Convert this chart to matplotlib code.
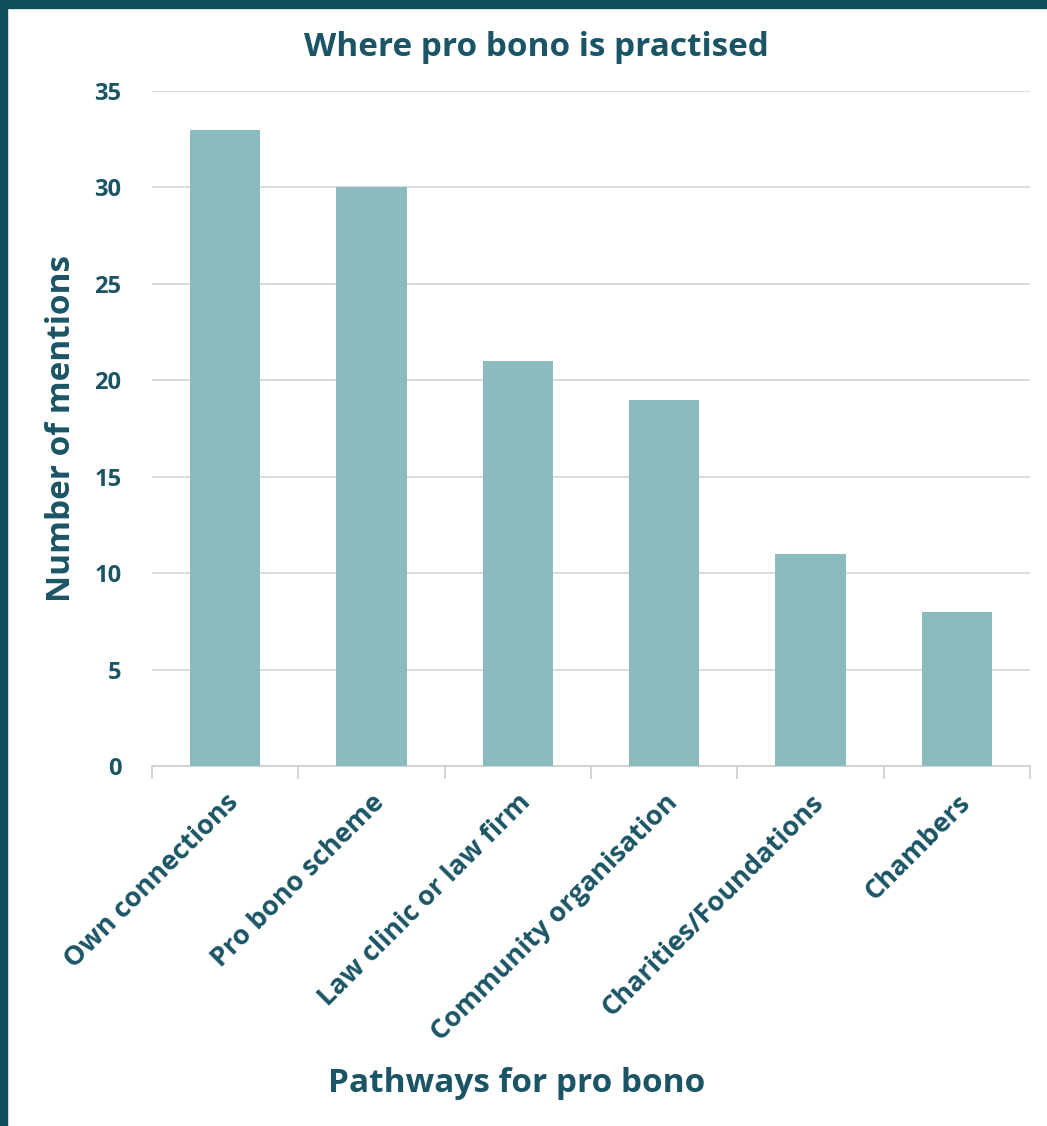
import matplotlib
matplotlib.use("Agg")
import matplotlib.pyplot as plt
import numpy as np

categories = ["Own connections", "Pro bono scheme", "Law clinic or law firm",
              "Community organisation", "Charities/Foundations", "Chambers"]
values = [33, 30, 21, 19, 11, 8]
yticks = [0, 5, 10, 15, 20, 25, 30, 35]

TEXT = "#1B5565"
BAR = "#8BBBBF"
BORDER = "#0E4F5C"

plt.rcParams['font.family'] = ['Open Sans', 'DejaVu Sans']

fig = plt.figure(figsize=(10.47, 11.26), dpi=100)
fig.patch.set_facecolor("white")
# dark frame (left + top)
fig.patches.append(plt.Rectangle((0, 0), 7/1047, 1, transform=fig.transFigure, color=BORDER, zorder=0))
fig.patches.append(plt.Rectangle((0, 1-8/1126), 1, 8/1126, transform=fig.transFigure, color=BORDER, zorder=0))

W, H = 1047, 1126
ax = fig.add_axes([152/W, 1-766/H, (1030-152)/W, (766-91)/H])
x = np.arange(len(categories))
ax.bar(x, values, width=0.48, color=BAR, zorder=3)
ax.set_xlim(-0.5, len(categories)-0.5)
ax.set_ylim(0, 35)
ax.set_yticks(yticks)
ax.set_yticklabels([str(v) for v in yticks], fontsize=17, fontweight='bold', color=TEXT)
ax.tick_params(axis='y', length=0, pad=22)
ax.grid(axis='y', color='#D9D9D9', linewidth=1.3, zorder=0)
ax.set_axisbelow(True)
for s in ['top', 'right', 'left']:
    ax.spines[s].set_visible(False)
ax.spines['bottom'].set_color('#D0D0D0')
ax.spines['bottom'].set_linewidth(1.3)

ax.set_xticks(x)
ax.set_xticklabels(categories, rotation=45, ha='right', rotation_mode='anchor',
                   fontsize=19.5, fontweight='bold', color=TEXT)
ax.tick_params(axis='x', length=0, pad=17)
ax.set_xticks(np.arange(len(categories)+1) - 0.5, minor=True)
ax.tick_params(axis='x', which='minor', length=9, color='#D0D0D0', width=1.3)

ax.set_ylabel("Number of mentions", fontsize=24, fontweight='bold', color=TEXT, labelpad=12)
fig.text((305+768)/2/W, 1-48/H, "Where pro bono is practised", ha='center', va='center',
         fontsize=24, fontweight='bold', color=TEXT)
fig.text((327+706)/2/W, 1-1083/H, "Pathways for pro bono", ha='center', va='center',
         fontsize=24, fontweight='bold', color=TEXT)

fig.savefig("out.png", dpi=100, facecolor="white")
